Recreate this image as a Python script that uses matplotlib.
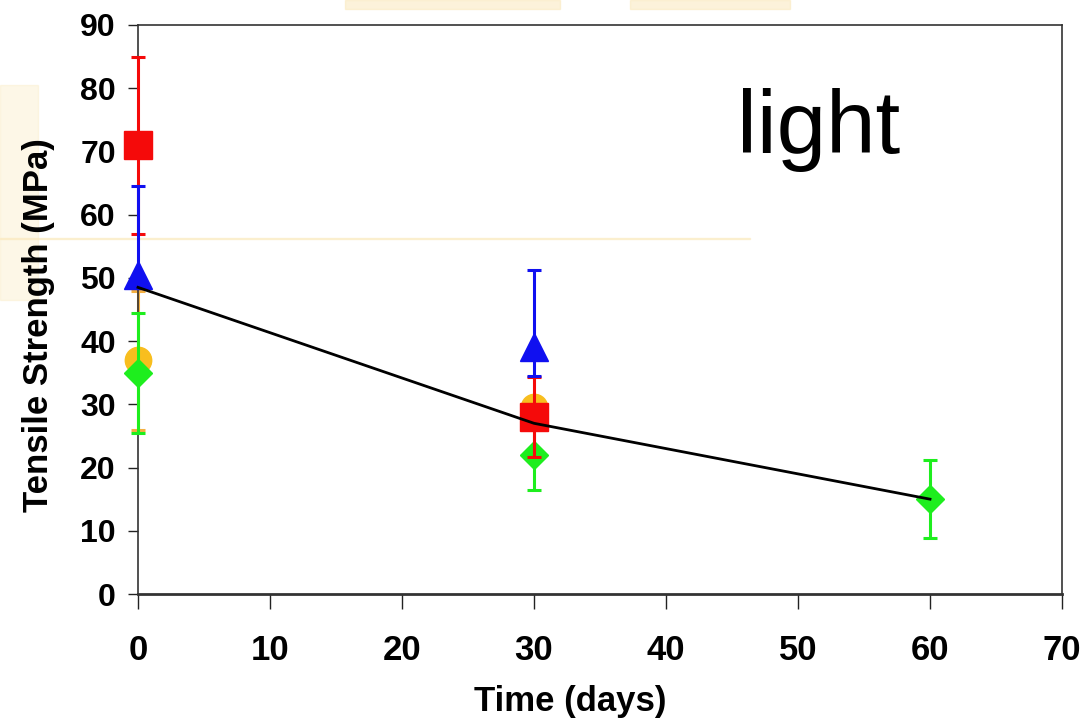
import matplotlib
matplotlib.use("Agg")
import matplotlib.pyplot as plt
from matplotlib.patches import Rectangle

# ---- data ----
time_days = [0, 30]
red_mean = [71, 28]
red_err = [14, 6.3]
blue_mean = [50.5, 39]
blue_err_low = [1, 4.5]
blue_err_high = [14, 12.3]
orange_mean = [37, 29.5]
orange_err = [11, 1.5]
green_time = [0, 30, 60]
green_mean = [35, 22, 15]
green_err = [9.5, 5.5, 6.2]
fit_time = [0, 30, 60]
fit_values = [48.5, 27, 15]

xticks = [0, 10, 20, 30, 40, 50, 60, 70]
yticks = [0, 10, 20, 30, 40, 50, 60, 70, 80, 90]

plt.rcParams['font.family'] = ['Liberation Sans', 'DejaVu Sans']

fig = plt.figure(figsize=(10.89, 7.23), dpi=100)
fig.patch.set_facecolor('white')

# faint slide background artifacts
bg = '#FBE9BC'
for (x0, y0, w, h, a) in [(345, 0, 215, 9, 0.55), (630, 0, 160, 9, 0.55),
                          (0, 85, 38, 215, 0.35), (0, 238, 750, 1.2, 0.6)]:
    fig.patches.append(Rectangle((x0/1089, 1-(y0+h)/723), w/1089, h/723,
                                 transform=fig.transFigure, color=bg, alpha=a,
                                 zorder=-5))

ax = fig.add_axes([138/1089, 1-594/723, (1062-138)/1089, (594-25)/723])
ax.set_facecolor('none')
ax.set_zorder(5)

cap = 5
lw = 2.2


def noclip(container):
    for art in container.get_children():
        art.set_clip_on(False)


noclip(ax.errorbar(time_days, orange_mean, yerr=orange_err, fmt='o', color='#F8BE1E',
                   ecolor='#F4B040', ms=19, elinewidth=lw, capsize=cap, capthick=lw, zorder=2))
noclip(ax.errorbar(green_time, green_mean, yerr=green_err, fmt='D', color='#1EEE1E',
                   ms=14, elinewidth=lw, capsize=cap, capthick=lw, zorder=3))
noclip(ax.errorbar(time_days, red_mean, yerr=red_err, fmt='s', color='#F50A0A',
                   ms=20, elinewidth=lw, capsize=cap, capthick=lw, zorder=4))
noclip(ax.errorbar(time_days, blue_mean, yerr=[blue_err_low, blue_err_high], fmt='^',
                   color='#1010F0', ms=20, elinewidth=lw, capsize=cap, capthick=lw, zorder=5))
ax.plot(fit_time, fit_values, color='black', lw=2, zorder=6, clip_on=False)

ax.set_xlim(0, 70)
ax.set_ylim(0, 90)
ax.set_xticks(xticks)
ax.set_yticks(yticks)
for s in ax.spines.values():
    s.set_color('#333333')
    s.set_linewidth(1.2)
ax.spines['bottom'].set_linewidth(2)

ax.tick_params(axis='y', direction='out', length=7, width=1, labelsize=23, pad=9,
               colors='#222222', labelcolor='black')
ax.tick_params(axis='x', direction='out', length=11, width=1, labelsize=25, pad=18,
               colors='#222222', labelcolor='black')
for lab in ax.get_xticklabels() + ax.get_yticklabels():
    lab.set_fontweight('bold')

ax.set_xlabel('Time (days)', fontsize=25, fontweight='bold')
ax.set_ylabel('Tensile Strength (MPa)', fontsize=25, fontweight='bold')
ax.xaxis.set_label_coords(0.4675, -0.16)
ax.yaxis.set_label_coords(-0.09, 0.473)

ax.text(0.737, 0.775, 'light', transform=ax.transAxes, fontsize=64,
        ha='center', va='baseline', color='black')

fig.savefig('out.png', dpi=100)
